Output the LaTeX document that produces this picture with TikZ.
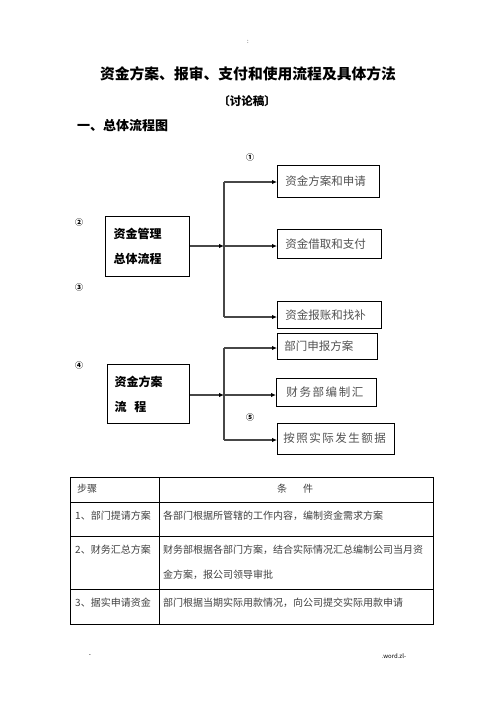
\documentclass[tikz,border=0pt]{standalone}
\usepackage{fontspec}
\setmainfont{Noto Sans CJK SC}
\usetikzlibrary{arrows.meta}
\begin{document}
\begin{tikzpicture}[x=1pt,y=-1pt,
  box/.style={draw, line width=0.8pt, anchor=west, inner ysep=0pt, align=left,
    font=\fontsize{11.5}{14}\selectfont, text=black!68},
  mbox/.style={draw, line width=1pt, anchor=west, inner ysep=0pt, align=left,
    font=\fontsize{12}{25}\selectfont\bfseries, text=black},
  conn/.style={draw=black!72, line width=1.4pt},
  arr/.style={conn, -{Latex[length=5pt,width=4.5pt,fill=black,color=black]}},
  circ/.style={font=\fontsize{8}{8}\selectfont\bfseries, inner sep=0pt},
  cell/.style={anchor=west, inner sep=0pt, font=\fontsize{10}{12}\selectfont, text=black!75},
  grid/.style={draw=black, line width=0.8pt}]
\fill[white] (0,0) rectangle (496,702);
\useasboundingbox (0,0) rectangle (496,702);

% header texts
\node[inner sep=0pt, font=\fontsize{6}{6}\selectfont] (dots) at (248,42) {:};
\node[inner sep=0pt, font=\fontsize{14.8}{16}\selectfont\bfseries] (title) at (248,74) {资金方案、报审、支付和使用流程及具体方法};
\node[inner sep=0pt, font=\fontsize{11.5}{12}\selectfont\bfseries] (sub) at (247,101) {〔讨论稿〕};
\node[inner sep=0pt, anchor=west, font=\fontsize{13}{14}\selectfont\bfseries] (head) at (77,126) {一、总体流程图};

% circled numbers
\node[circ] (c1) at (250,157) {①};
\node[circ] (c2) at (79,222) {②};
\node[circ] (c3) at (79,287) {③};
\node[circ] (c4) at (79,365) {④};
\node[circ] (c5) at (250,417) {⑤};

% group 1
\node[mbox, inner xsep=8pt, text width=68pt, minimum height=60pt] (m1) at (105,246) {资金管理\\总体流程};
\node[box, inner xsep=8pt, text width=86pt, minimum height=32pt] (b1) at (277,181) {资金方案和申请};
\node[box, inner xsep=8pt, text width=88pt, minimum height=29pt] (b2) at (277,244) {资金借取和支付};
\node[box, inner xsep=8pt, text width=88pt, minimum height=27pt] (b3) at (277,315) {资金报账和找补};

\coordinate (j1) at (224,246);
\coordinate (t1a) at (224,182);
\coordinate (t1b) at (224,317);
\draw[conn] (t1a) -- (t1b);
\draw[arr] (m1.east) -- (j1);
\draw[arr] (t1a) -- (t1a -| b1.west);
\draw[arr] (j1) -- (j1 -| b2.west);
\draw[arr] (t1b) -- (t1b -| b3.west);

% group 2
\node[mbox, inner xsep=7pt, text width=68pt, minimum height=59pt] (m2) at (107,394) {资金方案\\流\hspace{8pt}程};
\node[box, inner xsep=7pt, text width=86pt, minimum height=26pt] (b4) at (277,346) {部门申报方案};
\node[box, inner xsep=10pt, text width=80pt, minimum height=28pt] (b5) at (276,392) {\addfontfeature{LetterSpace=14}财务部编制汇};
\node[box, inner xsep=6pt, text width=105pt, minimum height=31pt] (b6) at (277,438.5) {\addfontfeature{LetterSpace=13}按照实际发生额据};

\coordinate (j2) at (224,395);
\coordinate (t2a) at (224,348);
\coordinate (t2b) at (224,440);
\draw[conn] (t2a) -- (t2b);
\draw[arr] (m2.east |- j2) -- (j2);
\draw[arr] (t2a) -- (t2a -| b4.west);
\draw[arr] (j2) -- (j2 -| b5.west);
\draw[arr] (t2b) -- (t2b -| b6.west);

% table
\coordinate (tl) at (70,477);
\coordinate (br) at (433,624);
\draw[grid] (tl) rectangle (br);
\draw[grid] (70,502) -- (433,502);
\draw[grid] (70,536) -- (433,536);
\draw[grid] (70,589) -- (433,589);
\draw[grid] (159,477) -- (159,624);

\node[cell] (h1) at (77,489) {步骤};
\node[cell, anchor=center] (h2) at (295,489) {条\hspace{16pt}件};
\node[cell] (r1a) at (75,516) {1、部门提请方案};
\node[cell] (r1b) at (163,516) {各部门根据所管辖的工作内容，编制资金需求方案};
\node[cell] (r2a) at (75,550) {2、财务汇总方案};
\node[cell] (r2b) at (163,550) {财务部根据各部门方案，结合实际情况汇总编制公司当月资};
\node[cell] (r2c) at (163,575) {金方案，报公司领导审批};
\node[cell] (r3a) at (75,603) {3、据实申请资金};
\node[cell] (r3b) at (163,603) {部门根据当期实际用款情况，向公司提交实际用款申请};

% footer
\node[inner sep=0pt, font=\fontsize{6}{6}\selectfont] (fl) at (90,656) {-};
\node[inner sep=0pt, font=\fontsize{6}{6}\selectfont] (fr) at (394,656) {.word.zl-};
\end{tikzpicture}
\end{document}
